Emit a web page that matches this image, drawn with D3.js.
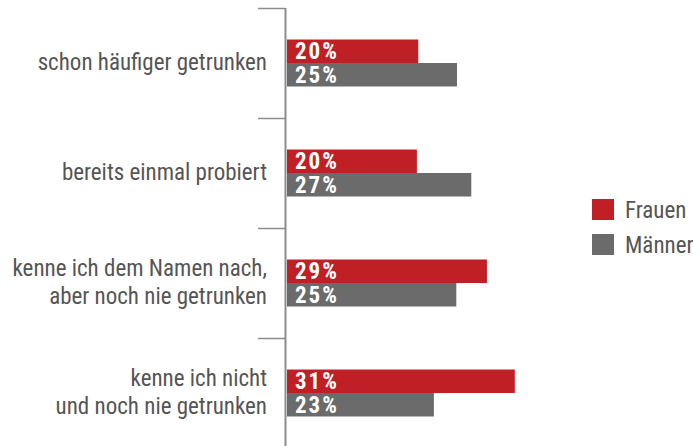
<!DOCTYPE html>
<html>
<head>
<meta charset="utf-8">
<script src="https://cdn.jsdelivr.net/npm/d3@7/dist/d3.min.js"></script>
<style>
  body { margin: 0; background: #fff; }
  svg { display: block; }
</style>
</head>
<body>
<script>
// categories (multi-line labels split by "|")
var categories = [
  "schon häufiger getrunken",
  "bereits einmal probiert",
  "kenne ich dem Namen nach,|aber noch nie getrunken",
  "kenne ich nicht|und noch nie getrunken"
];
var series = ["Frauen", "Männer"];

// bar lengths as drawn in the picture (share in %)
var frauen = [19.3, 19.1, 29.4, 33.5];
var maenner = [25.0, 27.1, 24.9, 21.6];

// printed labels
var frauenLabels = ["20%", "20%", "29%", "31%"];
var maennerLabels = ["25%", "27%", "25%", "23%"];

var colors = {"Frauen": "#c01f26", "Männer": "#6a6b6a"};

var width = 693, height = 446;
var font = "'Roboto Condensed', 'Liberation Sans Narrow', sans-serif";

var svg = d3.select("body").append("svg")
    .attr("width", width)
    .attr("height", height);

var x = d3.scaleLinear().domain([0, 40]).range([287, 559]);

var y = d3.scaleBand().domain(categories).range([8, 448]);

var inner = d3.scaleBand().domain(series).range([0, 47]);

var rows = categories.map(function(c, i) {
  return {cat: c, values: [
    {s: "Frauen", v: frauen[i], label: frauenLabels[i]},
    {s: "Männer", v: maenner[i], label: maennerLabels[i]}
  ]};
});

// axis line and ticks at band edges
svg.append("line")
    .attr("x1", 285.5).attr("x2", 285.5)
    .attr("y1", 8).attr("y2", height)
    .attr("stroke", "#8c8c8c")
    .attr("stroke-width", 2);

svg.selectAll("line.tick")
    .data(categories)
  .enter().append("line")
    .attr("class", "tick")
    .attr("x1", 258).attr("x2", 285)
    .attr("y1", function(d) { return y(d) + 0.5; })
    .attr("y2", function(d) { return y(d) + 0.5; })
    .attr("stroke", "#8c8c8c")
    .attr("stroke-width", 1.5);

// category labels
var labels = svg.selectAll("text.cat")
    .data(categories)
  .enter().append("text")
    .attr("class", "cat")
    .attr("text-anchor", "end")
    .style("font-family", font)
    .style("font-size", "23px")
    .style("fill", "#555");

labels.each(function(d) {
  var lines = d.split("|");
  var cy = y(d) + y.bandwidth() / 2;
  var first = cy + 7 - (lines.length - 1) * 14;
  d3.select(this).selectAll("tspan")
      .data(lines)
    .enter().append("tspan")
      .attr("x", 267)
      .attr("y", function(l, i) { return first + i * 28; })
      .text(function(l) { return l; });
});

// bars
var groups = svg.selectAll("g.row")
    .data(rows)
  .enter().append("g")
    .attr("class", "row")
    .attr("transform", function(d) {
      return "translate(0," + (y(d.cat) + y.bandwidth() / 2 - 23.5) + ")";
    });

groups.selectAll("rect")
    .data(function(d) { return d.values; })
  .enter().append("rect")
    .attr("x", x(0))
    .attr("y", function(d) { return inner(d.s); })
    .attr("width", function(d) { return x(d.v) - x(0); })
    .attr("height", inner.bandwidth())
    .attr("fill", function(d) { return colors[d.s]; });

groups.selectAll("text")
    .data(function(d) { return d.values; })
  .enter().append("text")
    .attr("x", 295)
    .attr("y", function(d) { return inner(d.s) + inner.bandwidth() / 2 + 8; })
    .style("font-family", font)
    .style("font-weight", "bold")
    .style("font-size", "23px")
    .style("letter-spacing", "2px")
    .style("fill", "#fff")
    .text(function(d) { return d.label; });

// legend
var legend = svg.selectAll("g.legend")
    .data(series)
  .enter().append("g")
    .attr("class", "legend")
    .attr("transform", function(d, i) { return "translate(592," + (199 + i * 35) + ")"; });

legend.append("rect")
    .attr("width", 22)
    .attr("height", 21)
    .attr("fill", function(d) { return colors[d]; });

legend.append("text")
    .attr("x", 33)
    .attr("y", 19)
    .style("font-family", font)
    .style("font-size", "23px")
    .style("fill", "#555")
    .text(function(d) { return d; });
</script>
</body>
</html>
